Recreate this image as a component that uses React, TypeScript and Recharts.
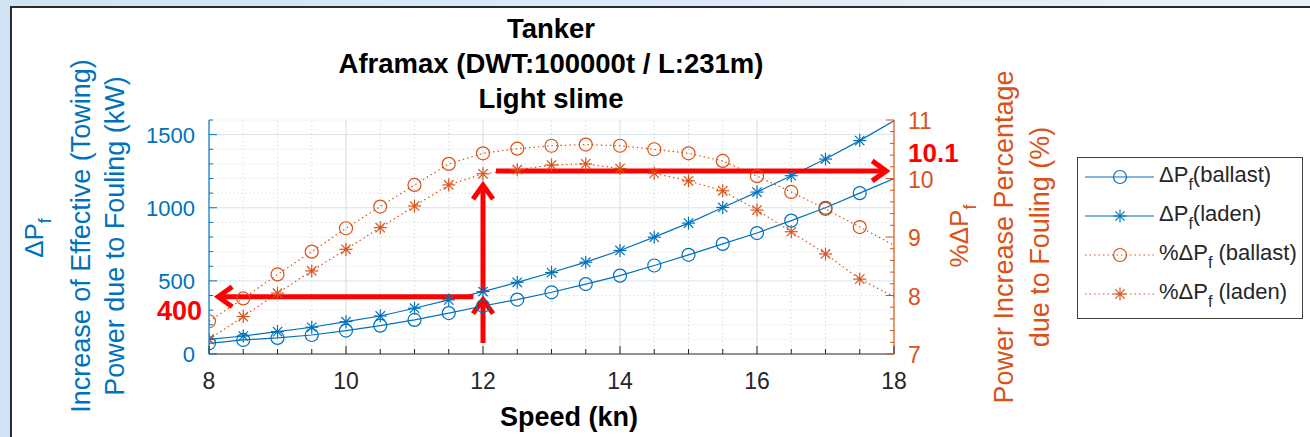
import React from 'react';
import { LineChart, Line, XAxis, YAxis, ReferenceLine, Legend } from 'recharts';

// speed (kn), one point every half knot; markers stop at 17.5
const speeds = [8, 8.5, 9, 9.5, 10, 10.5, 11, 11.5, 12, 12.5, 13, 13.5, 14, 14.5, 15, 15.5, 16, 16.5, 17, 17.5, 18];
// ΔPf in kW (left axis)
const ballastKw = [73, 96, 110, 130, 160, 194, 233, 280, 328, 372, 422, 478, 536, 605, 678, 753, 827, 912, 1000, 1100, 1200];
const ladenKw = [100, 123, 153, 183, 221, 260, 313, 370, 427, 490, 557, 628, 708, 799, 895, 1002, 1107, 1219, 1333, 1459, 1595];
// %ΔPf (right axis)
const ballastPct = [7.56, 7.95, 8.36, 8.75, 9.15, 9.52, 9.89, 10.25, 10.43, 10.51, 10.56, 10.58, 10.56, 10.5, 10.43, 10.3, 10.04, 9.77, 9.48, 9.17, 8.86];
const ladenPct = [7.25, 7.64, 8.04, 8.42, 8.79, 9.16, 9.53, 9.89, 10.08, 10.15, 10.23, 10.25, 10.17, 10.09, 9.96, 9.79, 9.46, 9.09, 8.71, 8.28, 7.98];

const xMajorTicks = [8, 10, 12, 14, 16, 18];
const leftMajorTicks = [0, 500, 1000, 1500];
const rightMajorTicks = [7, 8, 9, 10, 11];

const titleLines = ['Tanker', 'Aframax (DWT:100000t / L:231m)', 'Light slime'];

// read-off annotation (speed 12 kn -> ~400 kW, ~10.1 %)
const readKwLabel = '400';
const readPctLabel = '10.1';
const arrowToKw = [{ x: 11.86, y: 392 }, { x: 8.09, y: 392 }];
const arrowUpLow = [{ x: 12, y: 75 }, { x: 12, y: 392 }];
const arrowUpHigh = [{ x: 12, y: 418 }, { x: 12, y: 1175 }];
const arrowToPct = [{ x: 12.19, y: 10.13 }, { x: 17.93, y: 10.13 }];

const FONT = '"Liberation Sans", Arial, sans-serif';
const BLUE = '#0072BD';
const ORANGE = '#D95319';
const RED = '#FF0000';
const INK = '#262626';

const range = (a: number, b: number, s: number) => {
  const out: number[] = [];
  for (let i = 0; a + i * s <= b + 1e-9; i++) out.push(+(a + i * s).toFixed(3));
  return out;
};
const xTicks = range(8, 18, 0.5);
const leftTicks = range(0, 1600, 100);
const rightTicks = range(7, 11, 0.2);

const data = speeds.map((s, i) => ({
  speed: s,
  ballastKw: ballastKw[i],
  ladenKw: ladenKw[i],
  ballastPct: ballastPct[i],
  ladenPct: ladenPct[i],
}));

const seriesList = [
  { key: 'ballastKw', axis: 'left', color: BLUE, marker: 'circle', dashed: false, pre: 'ΔP', post: '(ballast)' },
  { key: 'ladenKw', axis: 'left', color: BLUE, marker: 'star', dashed: false, pre: 'ΔP', post: '(laden)' },
  { key: 'ballastPct', axis: 'right', color: ORANGE, marker: 'circle', dashed: true, pre: '%ΔP', post: ' (ballast)' },
  { key: 'ladenPct', axis: 'right', color: ORANGE, marker: 'star', dashed: true, pre: '%ΔP', post: ' (laden)' },
];

function Marker({ kind, cx, cy, color }: any) {
  const r = 6.5;
  if (kind === 'circle') {
    return <circle cx={cx} cy={cy} r={r} fill="none" stroke={color} strokeWidth={1.2} />;
  }
  const d = r * 0.72;
  return (
    <g stroke={color} strokeWidth={1.2}>
      <line x1={cx - r} y1={cy} x2={cx + r} y2={cy} />
      <line x1={cx} y1={cy - r} x2={cx} y2={cy + r} />
      <line x1={cx - d} y1={cy - d} x2={cx + d} y2={cy + d} />
      <line x1={cx - d} y1={cy + d} x2={cx + d} y2={cy - d} />
    </g>
  );
}

const XTick = (p: any) => {
  const { x, y, payload } = p;
  const v = payload.value;
  const major = xMajorTicks.includes(v);
  return (
    <g>
      <line x1={x} x2={x} y1={y} y2={y - (major ? 8 : 5)} stroke={INK} />
      {major && (
        <text x={x} y={y + 35} textAnchor="middle" fontSize={23} fill={INK} fontFamily={FONT}>{v}</text>
      )}
    </g>
  );
};

const LeftTick = (p: any) => {
  const { x, y, payload } = p;
  const v = payload.value;
  const major = leftMajorTicks.includes(v);
  return (
    <g>
      <line x1={x} x2={x + (major ? 8 : 4)} y1={y} y2={y} stroke={BLUE} />
      {major && (
        <text x={x - 14} y={y + 8} textAnchor="end" fontSize={22} fill={BLUE} fontFamily={FONT}>{v}</text>
      )}
    </g>
  );
};

const RightTick = (p: any) => {
  const { x, y, payload } = p;
  const v = payload.value;
  const major = rightMajorTicks.includes(v);
  return (
    <g>
      <line x1={x} x2={x - (major ? 8 : 4)} y1={y} y2={y} stroke={ORANGE} />
      {major && (
        <text x={x + 14} y={y + 9} textAnchor="start" fontSize={23} fill={ORANGE} fontFamily={FONT}>{v}</text>
      )}
    </g>
  );
};

const Arrow = (p: any) => {
  const { x1, y1, x2, y2 } = p;
  const ang = Math.atan2(y2 - y1, x2 - x1);
  const L = 14;
  const W = 10;
  const tx = x2 - 3 * Math.cos(ang);
  const ty = y2 - 3 * Math.sin(ang);
  const bx = tx - L * Math.cos(ang);
  const by = ty - L * Math.sin(ang);
  const px = -Math.sin(ang) * W;
  const py = Math.cos(ang) * W;
  return (
    <g>
      <line x1={x1} y1={y1} x2={tx} y2={ty} stroke={RED} strokeWidth={5} />
      <polyline
        points={`${bx + px},${by + py} ${tx},${ty} ${bx - px},${by - py}`}
        fill="none"
        stroke={RED}
        strokeWidth={5}
      />
    </g>
  );
};

const renderLegend = (props: any) => {
  const payload = props.payload || [];
  // keep the plotting order, not the legend's sorted order
  const rows = seriesList.filter((s) => payload.length === 0 || payload.some((e: any) => e.dataKey === s.key));
  return (
    <div
      style={{
        width: 226,
        height: 162,
        boxSizing: 'border-box',
        border: '1.5px solid #404040',
        background: '#fff',
        fontFamily: FONT,
        fontSize: 22,
        color: INK,
        position: 'relative',
      }}
    >
      {rows.map((s, i) => (
        <div key={s.key} style={{ position: 'absolute', left: 0, top: i * 39, height: 39, width: 224 }}>
          <svg width={80} height={39} style={{ position: 'absolute', left: 0, top: 0 }}>
            <line
              x1={7}
              x2={76}
              y1={19}
              y2={19}
              stroke={s.color}
              strokeWidth={1.2}
              strokeDasharray={s.dashed ? '1.5 3' : undefined}
            />
            <Marker kind={s.marker} cx={42} cy={19} color={s.color} />
          </svg>
          <div style={{ position: 'absolute', left: 81, top: 5, whiteSpace: 'nowrap', lineHeight: '24px' }}>
            {s.pre}
            <span style={{ fontSize: 16, position: 'relative', top: 8 }}>f</span>
            {s.post}
          </div>
        </div>
      ))}
    </div>
  );
};

const rotLabel = (x: number, y: number, color: string, size: number, children: any) => (
  <text
    transform={`translate(${x},${y}) rotate(-90)`}
    textAnchor="middle"
    fontSize={size}
    fill={color}
    fontFamily={FONT}
  >
    {children}
  </text>
);

export default function App() {
  return (
    <div
      style={{
        position: 'absolute',
        left: 0,
        top: 0,
        width: 1310,
        height: 437,
        overflow: 'hidden',
        background: 'linear-gradient(to right, #cfe3f5, #e9f2fb)',
      }}
    >
      <div
        style={{
          position: 'absolute',
          left: 10,
          top: 6,
          width: 1320,
          height: 450,
          background: '#fff',
          borderLeft: '2px solid #2b2b2b',
          borderTop: '2px solid #2b2b2b',
        }}
      />
      <div style={{ position: 'absolute', left: 0, top: 0 }}>
        <LineChart width={1310} height={437} data={data} margin={{ top: 120, right: 0, bottom: 0, left: 0 }}>
          <XAxis
            dataKey="speed"
            type="number"
            domain={[8, 18]}
            ticks={xTicks}
            interval={0}
            height={83}
            tickSize={0}
            tickMargin={0}
            tickLine={false}
            axisLine={{ stroke: INK, strokeWidth: 1.2 }}
            tick={<XTick />}
            allowDataOverflow
          />
          <YAxis
            yAxisId="left"
            orientation="left"
            width={209}
            domain={[0, 1600]}
            ticks={leftTicks}
            interval={0}
            tickSize={0}
            tickMargin={0}
            tickLine={false}
            axisLine={{ stroke: BLUE, strokeWidth: 1.2 }}
            tick={<LeftTick />}
            allowDataOverflow
          />
          <YAxis
            yAxisId="right"
            orientation="right"
            width={416}
            domain={[7, 11]}
            ticks={rightTicks}
            interval={0}
            tickSize={0}
            tickMargin={0}
            tickLine={false}
            axisLine={{ stroke: ORANGE, strokeWidth: 1.2 }}
            tick={<RightTick />}
            allowDataOverflow
          />

          {xTicks
            .filter((v) => v > 8 && v < 18)
            .map((v) => (
              <ReferenceLine
                key={`gx${v}`}
                x={v}
                yAxisId="left"
                stroke={xMajorTicks.includes(v) ? '#dadada' : '#cccccc'}
                strokeWidth={1}
                strokeDasharray={xMajorTicks.includes(v) ? undefined : '1 3'}
              />
            ))}
          {leftTicks
            .filter((v) => v > 0)
            .map((v) => (
              <ReferenceLine
                key={`gy${v}`}
                y={v}
                yAxisId="left"
                stroke={leftMajorTicks.includes(v) ? '#d3e3f1' : '#c3d7e8'}
                strokeWidth={1}
                strokeDasharray={leftMajorTicks.includes(v) ? undefined : '1 3'}
              />
            ))}

          {seriesList.map((s) => (
            <Line
              key={s.key}
              yAxisId={s.axis}
              dataKey={s.key}
              name={`${s.pre}f${s.post}`}
              type="linear"
              stroke={s.color}
              strokeWidth={1.2}
              strokeDasharray={s.dashed ? '1.5 3' : undefined}
              activeDot={false}
              isAnimationActive={false}
              dot={(p: any) => (
                <g key={`${s.key}-${p.index}`}>
                  {p.index < speeds.length - 1 && p.cx != null && (
                    <Marker kind={s.marker} cx={p.cx} cy={p.cy} color={s.color} />
                  )}
                </g>
              )}
            />
          ))}

          <ReferenceLine yAxisId="left" segment={arrowToKw} shape={Arrow} ifOverflow="visible" />
          <ReferenceLine yAxisId="left" segment={arrowUpLow} shape={Arrow} ifOverflow="visible" />
          <ReferenceLine yAxisId="left" segment={arrowUpHigh} shape={Arrow} ifOverflow="visible" />
          <ReferenceLine yAxisId="right" segment={arrowToPct} shape={Arrow} ifOverflow="visible" />

          <Legend
            layout="vertical"
            align="center"
            verticalAlign="middle"
            content={renderLegend}
            wrapperStyle={{ left: 1077, top: 157, width: 226, height: 162 }}
          />
        </LineChart>
      </div>

      <svg
        width={1310}
        height={437}
        style={{ position: 'absolute', left: 0, top: 0, pointerEvents: 'none' }}
      >
        {titleLines.map((t, i) => (
          <text
            key={t}
            x={551}
            y={38 + i * 35}
            textAnchor="middle"
            fontSize={27.5}
            fontWeight="bold"
            fill="#000"
            fontFamily={FONT}
          >
            {t}
          </text>
        ))}
        {rotLabel(43, 238, BLUE, 26, [
          'ΔP',
          <tspan key="f" fontSize={18} dy={8}>f</tspan>,
        ])}
        {rotLabel(90, 236, BLUE, 27, 'Increase of Effective (Towing)')}
        {rotLabel(124, 236, BLUE, 27, 'Power due to Fouling (kW)')}
        {rotLabel(968, 236, ORANGE, 26, [
          '%ΔP',
          <tspan key="f" fontSize={18} dy={8}>f</tspan>,
        ])}
        {rotLabel(1013, 237, ORANGE, 27, 'Power Increase Percentage')}
        {rotLabel(1049, 237, ORANGE, 27, 'due to Fouling (%)')}
        <text x={569} y={426} textAnchor="middle" fontSize={27} fontWeight="bold" fill="#000" fontFamily={FONT}>
          Speed (kn)
        </text>
        <text x={202} y={320} textAnchor="end" fontSize={27} fontWeight="bold" fill={RED} fontFamily={FONT}>
          {readKwLabel}
        </text>
        <text x={908} y={162} textAnchor="start" fontSize={26} fontWeight="bold" fill={RED} fontFamily={FONT}>
          {readPctLabel}
        </text>
      </svg>
    </div>
  );
}
